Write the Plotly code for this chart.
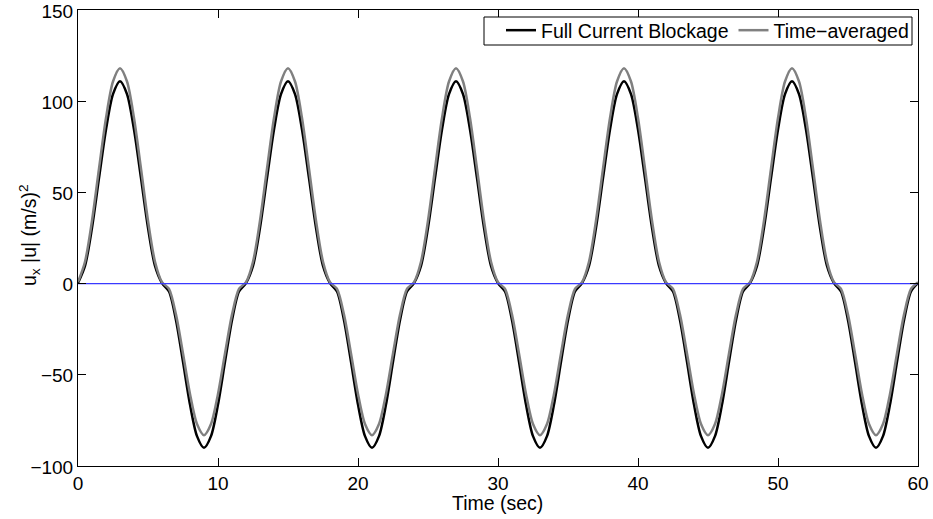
import plotly.graph_objects as go

time_sec = [
    0.0, 0.5, 1.0, 1.5, 2.0, 2.5, 3.0, 3.5, 4.0, 4.5, 5.0, 5.5,
    6.0, 6.5, 7.0, 7.5, 8.0, 8.5, 9.0, 9.5, 10.0, 10.5, 11.0, 11.5,
    12.0, 12.5, 13.0, 13.5, 14.0, 14.5, 15.0, 15.5, 16.0, 16.5, 17.0, 17.5,
    18.0, 18.5, 19.0, 19.5, 20.0, 20.5, 21.0, 21.5, 22.0, 22.5, 23.0, 23.5,
    24.0, 24.5, 25.0, 25.5, 26.0, 26.5, 27.0, 27.5, 28.0, 28.5, 29.0, 29.5,
    30.0, 30.5, 31.0, 31.5, 32.0, 32.5, 33.0, 33.5, 34.0, 34.5, 35.0, 35.5,
    36.0, 36.5, 37.0, 37.5, 38.0, 38.5, 39.0, 39.5, 40.0, 40.5, 41.0, 41.5,
    42.0, 42.5, 43.0, 43.5, 44.0, 44.5, 45.0, 45.5, 46.0, 46.5, 47.0, 47.5,
    48.0, 48.5, 49.0, 49.5, 50.0, 50.5, 51.0, 51.5, 52.0, 52.5, 53.0, 53.5,
    54.0, 54.5, 55.0, 55.5, 56.0, 56.5, 57.0, 57.5, 58.0, 58.5, 59.0, 59.5,
    60.0,
]

full_blockage = [
    0.3, 9.7, 30.6, 57.8, 84.5, 103.9, 111.0, 103.9, 84.5, 57.8, 30.6, 9.7,
    0.3, -4.3, -20.1, -42.9, -66.3, -83.6, -90.0, -83.6, -66.3, -42.9, -20.1, -4.3,
    0.3, 9.7, 30.6, 57.8, 84.5, 103.9, 111.0, 103.9, 84.5, 57.8, 30.6, 9.7,
    0.3, -4.3, -20.1, -42.9, -66.3, -83.6, -90.0, -83.6, -66.3, -42.9, -20.1, -4.3,
    0.3, 9.7, 30.6, 57.8, 84.5, 103.9, 111.0, 103.9, 84.5, 57.8, 30.6, 9.7,
    0.3, -4.3, -20.1, -42.9, -66.3, -83.6, -90.0, -83.6, -66.3, -42.9, -20.1, -4.3,
    0.3, 9.7, 30.6, 57.8, 84.5, 103.9, 111.0, 103.9, 84.5, 57.8, 30.6, 9.7,
    0.3, -4.3, -20.1, -42.9, -66.3, -83.6, -90.0, -83.6, -66.3, -42.9, -20.1, -4.3,
    0.3, 9.7, 30.6, 57.8, 84.5, 103.9, 111.0, 103.9, 84.5, 57.8, 30.6, 9.7,
    0.3, -4.3, -20.1, -42.9, -66.3, -83.6, -90.0, -83.6, -66.3, -42.9, -20.1, -4.3,
    0.3,
]

time_averaged = [
    0.8, 12.0, 34.5, 63.0, 90.8, 110.8, 118.1, 110.8, 90.8, 63.0, 34.5, 12.0,
    0.8, -2.9, -17.0, -38.3, -60.5, -77.0, -83.1, -77.0, -60.5, -38.3, -17.0, -2.9,
    0.8, 12.0, 34.5, 63.0, 90.8, 110.8, 118.1, 110.8, 90.8, 63.0, 34.5, 12.0,
    0.8, -2.9, -17.0, -38.3, -60.5, -77.0, -83.1, -77.0, -60.5, -38.3, -17.0, -2.9,
    0.8, 12.0, 34.5, 63.0, 90.8, 110.8, 118.1, 110.8, 90.8, 63.0, 34.5, 12.0,
    0.8, -2.9, -17.0, -38.3, -60.5, -77.0, -83.1, -77.0, -60.5, -38.3, -17.0, -2.9,
    0.8, 12.0, 34.5, 63.0, 90.8, 110.8, 118.1, 110.8, 90.8, 63.0, 34.5, 12.0,
    0.8, -2.9, -17.0, -38.3, -60.5, -77.0, -83.1, -77.0, -60.5, -38.3, -17.0, -2.9,
    0.8, 12.0, 34.5, 63.0, 90.8, 110.8, 118.1, 110.8, 90.8, 63.0, 34.5, 12.0,
    0.8, -2.9, -17.0, -38.3, -60.5, -77.0, -83.1, -77.0, -60.5, -38.3, -17.0, -2.9,
    0.8,
]

zero_line_x = [0, 60]
zero_line_y = [0, 0]

x_ticks = [0, 10, 20, 30, 40, 50, 60]
y_ticks = [-100, -50, 0, 50, 100, 150]

FONT = "Liberation Sans, Arial, Helvetica, sans-serif"
FS_TICK = 19
FS_TEXT = 19.5

fig = go.Figure()
fig.add_trace(go.Scatter(
    x=time_sec, y=full_blockage, mode="lines", name="Full Current Blockage",
    line=dict(color="black", width=2.5, shape="spline", smoothing=0.8),
))
fig.add_trace(go.Scatter(
    x=time_sec, y=time_averaged, mode="lines", name="Time\u2212averaged",
    line=dict(color="#808080", width=2.5, shape="spline", smoothing=0.8),
))
fig.add_trace(go.Scatter(
    x=zero_line_x, y=zero_line_y, mode="lines", showlegend=False,
    line=dict(color="#3a3aff", width=1.4),
))

axis_common = dict(
    showline=True, linecolor="black", linewidth=1, mirror="ticks",
    ticks="inside", ticklen=8, tickcolor="black", tickwidth=1,
    showgrid=False, zeroline=False, automargin=False,
    ticklabeloverflow="allow",
    tickfont=dict(family=FONT, size=FS_TICK, color="black"),
)

# plot area in pixels: x 78..918, y 10..466
fig.update_layout(
    width=933, height=519,
    margin=dict(l=78, r=15, t=10, b=53),
    paper_bgcolor="white", plot_bgcolor="white",
    font=dict(family=FONT, size=FS_TEXT, color="black"),
    xaxis=dict(range=[0, 60], tickvals=x_ticks, **axis_common),
    yaxis=dict(range=[-100, 150], tickvals=y_ticks,
               ticktext=[str(v).replace("-", "\u2212") for v in y_ticks],
               ticklabelshift=1, **axis_common),
    legend=dict(
        orientation="h", x=(914 - 78) / 840, xanchor="right",
        y=1 - 1 / 456, yanchor="top",
        borderwidth=0, bgcolor="rgba(0,0,0,0)",
        font=dict(family=FONT, size=FS_TEXT, color="black"),
        itemwidth=30, tracegroupgap=0,
    ),
    showlegend=True,
    shapes=[dict(
        type="rect", xref="paper", yref="paper",
        x0=(484 - 78) / 840, x1=(912 - 78) / 840,
        y0=(466 - 45) / 456, y1=(466 - 17) / 456,
        line=dict(color="black", width=1), fillcolor="white", layer="above",
    )],
    annotations=[
        dict(text="Time (sec)", xref="paper", yref="paper",
             x=(497 - 78) / 840, y=(466 - 503) / 456,
             xanchor="center", yanchor="middle", showarrow=False,
             font=dict(family=FONT, size=FS_TEXT, color="black")),
        dict(text="u<sub>x</sub> |u| (m/s)<sup>2</sup>", xref="paper", yref="paper",
             x=(29 - 78) / 840, y=(466 - 235) / 456, textangle=-90,
             xanchor="center", yanchor="middle", showarrow=False,
             font=dict(family=FONT, size=FS_TEXT, color="black")),
    ],
)

fig.write_html("out.html",
               config={"displayModeBar": False},
               post_script="document.body.style.margin='0';document.body.style.padding='0';")
